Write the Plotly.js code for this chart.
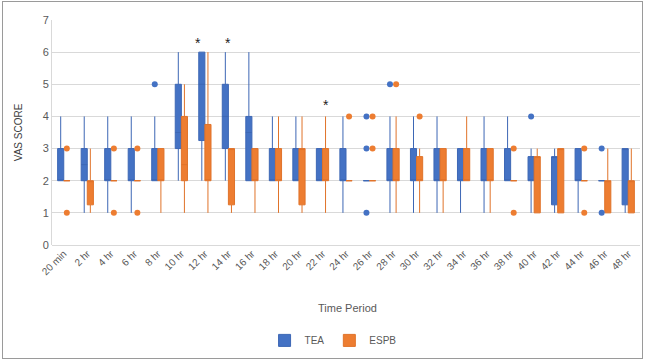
<!DOCTYPE html>
<html><head><meta charset="utf-8">
<script src="https://cdn.plot.ly/plotly-3.0.1.min.js"></script>
<style>
html,body{margin:0;padding:0;background:#fff;}
#wrap{position:relative;width:645px;height:360px;}
#chart{position:absolute;left:0;top:0;width:645px;height:360px;}
#frame{position:absolute;left:2px;top:1px;width:639px;height:356px;border:1px solid #9a9a9a;pointer-events:none;}
</style></head>
<body>
<div id="wrap"><div id="chart"></div><div id="frame"></div></div>
<script>
const categories = ["20 min","2 hr","4 hr","6 hr","8 hr","10 hr","12 hr","14 hr","16 hr","18 hr","20 hr","22 hr","24 hr","26 hr","28 hr","30 hr","32 hr","34 hr","36 hr","38 hr","40 hr","42 hr","44 hr","46 hr","48 hr"];

const teaMin = [2,1,1,1,2,2,2,2,2,2,2,2,1,2,1,1,1,1,1,2,1,1,1,2,1];
const teaQ1  = [2,2,2,2,2,3,3.25,3,2,2,2,2,2,2,2,2,2,2,2,2,2,1.25,2,2,1.25];
const teaMed = [2,2.5,2,2,2,3.5,5,4,3.5,2,2,2,2,2,2,2,2,2,2,2,2,2.75,2,2,3];
const teaQ3  = [3,3,3,3,3,5,6,5,4,3,3,3,3,2,3,3,3,3,3,3,2.75,2.75,3,2,3];
const teaMax = [4,4,4,4,4,6,6,6,6,4,4,3,4,2,4,4,4,3,4,4,3,3,3,2,3];

const espbMin = [2,1,2,2,1,1,1,1,1,1,1,1,2,2,1,1,1,2,1,2,1,1,2,1,1];
const espbQ1  = [2,1.25,2,2,2,2,2,1.25,2,2,1.25,2,2,2,2,2,2,2,2,2,1,1,2,1,1];
const espbMed = [2,2,2,2,2,2.5,2,3,2,2,3,2,2,2,2,2,2,2,2,2,2.75,3,2,2,2];
const espbQ3  = [2,2,2,2,3,4,3.75,3,3,3,3,3,2,2,3,2.75,3,3,3,2,2.75,3,2,2,2];
const espbMax = [2,3,2,2,3,5,6,3,3,4,4,4,2,2,4,3,3,4,3,2,3,3,2,3,3];

const teaOutCat = ["8 hr","26 hr","26 hr","26 hr","28 hr","40 hr","46 hr","46 hr"];
const teaOutVal = [5,4,3,1,5,4,3,1];
const espbOutCat = ["20 min","20 min","4 hr","4 hr","6 hr","6 hr","24 hr","26 hr","26 hr","28 hr","30 hr","38 hr","38 hr","44 hr","44 hr"];
const espbOutVal = [3,1,3,1,3,1,4,4,3,5,4,3,1,3,1];

const sigCats = ["12 hr","14 hr","22 hr"];
const sigY = [6.3, 6.27, 4.35];
const sigLabel = "*";

const seriesNames = ["TEA", "ESPB"];

// style
const TEA_FILL = "#4472C4", TEA_LINE = "#3D67B5";
const ESPB_FILL = "#ED7D31", ESPB_LINE = "#E0732A";
const OFF = 0.13, BW = 0.26;
const sigOff = [-0.3, -0.03, 0.17];

const idx = c => categories.indexOf(c);
const pos = (arr, off) => arr.map((_, i) => i + off);

function boxTrace(name, off, mn, q1, md, q3, mx, fill, line){
  return {type:"box", name:name, x:pos(q1, off), q1:q1, median:md, q3:q3,
    lowerfence:mn, upperfence:mx, width:BW, whiskerwidth:0,
    boxpoints:false, fillcolor:fill, line:{color:line, width:1},
    hoverinfo:"skip", showlegend:true};
}
function outTrace(cats, vals, off, color){
  return {type:"scatter", mode:"markers", x:cats.map(c => idx(c) + off), y:vals,
    marker:{color:color, size:6}, showlegend:false, hoverinfo:"skip"};
}

const data = [
  boxTrace(seriesNames[0], -OFF, teaMin, teaQ1, teaMed, teaQ3, teaMax, TEA_FILL, TEA_LINE),
  boxTrace(seriesNames[1], OFF, espbMin, espbQ1, espbMed, espbQ3, espbMax, ESPB_FILL, ESPB_LINE),
  outTrace(teaOutCat, teaOutVal, -OFF, TEA_FILL),
  outTrace(espbOutCat, espbOutVal, OFF, ESPB_FILL)
];

const font = "Liberation Sans, Arial, sans-serif";
const annotations = sigCats.map((c, k) => ({
  x: idx(c) + sigOff[k], y: sigY[k], xref:"x", yref:"y", text: sigLabel,
  showarrow:false, font:{family:font, size:14, color:"#222"}
}));
annotations.push({x:0.503, y:-0.28, xref:"paper", yref:"paper", text:"Time Period",
  xanchor:"center", yanchor:"middle",
  showarrow:false, font:{family:font, size:11, color:"#595959"}});

const layout = {
  width:645, height:360,
  margin:{l:52, r:5, t:20, b:108},
  paper_bgcolor:"rgba(0,0,0,0)", plot_bgcolor:"#fff",
  font:{family:font, color:"#595959"},
  xaxis:{range:[-0.5, 24.5], tickmode:"array", tickvals:categories.map((_, i) => i),
    ticktext:categories, tickangle:-45, tickfont:{size:10, color:"#595959"},
    showgrid:false, zeroline:false, showline:false, ticks:"", fixedrange:true},
  yaxis:{range:[0,7], dtick:1, tick0:0, showgrid:true, gridcolor:"#D9D9D9", gridwidth:1,
    zeroline:true, zerolinecolor:"#D9D9D9", showline:true, linecolor:"#D9D9D9",
    tickfont:{size:11, color:"#595959"}, ticks:"", ticklen:0,
    title:{text:"VAS SCORE", font:{size:10, color:"#404040"}, standoff:18}},
  showlegend:true,
  legend:{orientation:"h", x:0.478, xanchor:"center", y:-0.424, yanchor:"middle",
    itemwidth:30, font:{size:10, color:"#595959"}, bgcolor:"rgba(0,0,0,0)"},
  annotations: annotations
};

Plotly.newPlot("chart", data, layout, {displayModeBar:false, staticPlot:true});
</script>
</body></html>
